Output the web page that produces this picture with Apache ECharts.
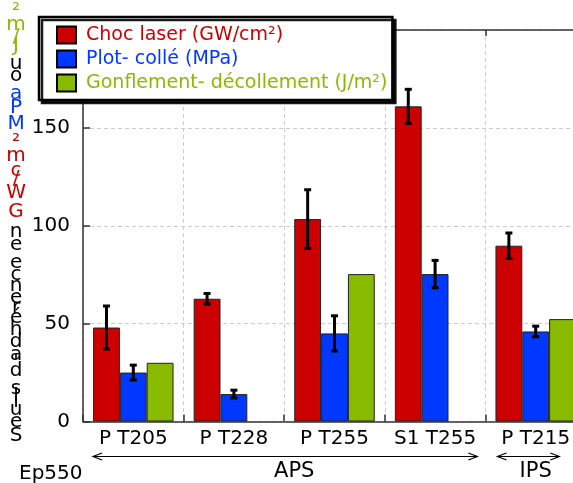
<!DOCTYPE html>
<html>
<head>
<meta charset="utf-8">
<script src="https://cdn.jsdelivr.net/npm/echarts@6/dist/echarts.min.js"></script>
<style>
  html, body { margin: 0; padding: 0; background: #ffffff; }
  #chart { width: 573px; height: 483px; }
</style>
</head>
<body>
<div id="chart"></div>
<script>
// ---------------- data ----------------
const categories = ['P T205', 'P T228', 'P T255', 'S1 T255', 'P T215'];
const seriesNames = ['Choc laser (GW/cm²)', 'Plot- collé (MPa)', 'Gonflement- décollement (J/m²)'];
const chocLaser = [48, 62.7, 103.4, 161, 89.8];
const chocLaserErr = [11, 2.7, 15, 8.7, 6.5];
const plotColle = [25, 14, 45, 75.3, 46];
const plotColleErr = [3.8, 2, 9, 7, 2.7];
const gonflement = [30, null, 75.3, null, 52.3];
const yTicks = [0, 50, 100, 150, 200];
const groupNames = ['APS', 'IPS'];
const groupSpans = [[0, 3], [4, 4]];
const leftNote = 'Ep550';
const yTitleParts = [
  ["Seuils d'adhérence en ", 'black'],
  ['GW/cm²', 'red'],
  [' ', 'black'],
  ['MPa', 'blue'],
  [' ou ', 'black'],
  ['J/m²', 'green']
];

// ---------------- styles ----------------
const COLORS = { red: '#CC0000', blue: '#0038FF', green: '#88BB00', black: '#000000' };
const FONT = 'DejaVu Sans';
// arrow span insets (in category units) and label offsets for the group annotations
const groupLayout = [
  { from: -0.40, to: 0.42, textAt: 1.6 },
  { from: -0.38, to: 0.235, textAt: 4.0 }
];

// Arial-like advance widths (em) used to stack the y title characters
const ADV = { 'S': .667, 'e': .556, 'u': .556, 'i': .222, 'l': .222, 's': .5, ' ': .278, 'd': .556, "'": .191,
  'a': .556, 'h': .556, 'é': .556, 'r': .333, 'n': .556, 'c': .5, 'G': .778, 'W': .944, '/': .278,
  'm': .833, '²': .333, 'M': .833, 'P': .667, 'o': .556, 'J': .5 };

// Build the stacked (bottom-to-top) y-axis title as rich text
const chars = [];
yTitleParts.forEach(function (p) {
  for (const ch of p[0]) chars.push({ ch: ch, color: COLORS[p[1]] });
});
const rich = {};
const lines = [];
chars.slice().reverse().forEach(function (c, i) {
  const key = 'c' + i;
  rich[key] = {
    color: c.color, fontFamily: FONT, fontSize: 20, align: 'center',
    lineHeight: (ADV[c.ch] || 0.5) * 22
  };
  lines.push('{' + key + '|' + c.ch + '}');
});
const yTitle = lines.join('\n');

// ---------------- chart ----------------
const chart = echarts.init(document.getElementById('chart'), null, { renderer: 'canvas' });

const errData = [];
[[chocLaser, chocLaserErr], [plotColle, plotColleErr]].forEach(function (pair, si) {
  pair[0].forEach(function (v, ci) {
    if (v != null && pair[1][ci] != null) errData.push([ci, v, pair[1][ci], si]);
  });
});

function renderErr(params, api) {
  const cat = api.value(0), val = api.value(1), err = api.value(2), si = api.value(3);
  const band = api.size([1, 0])[0];
  const bw = band * 0.8 / 3;
  const c = api.coord([cat, val]);
  const x = c[0] + (si - 1) * bw;
  const top = api.coord([cat, val + err])[1];
  const bot = api.coord([cat, val - err])[1];
  const cap = 3.5;
  const st = { stroke: '#000', lineWidth: 3 };
  return {
    type: 'group',
    children: [
      { type: 'line', shape: { x1: x, y1: top, x2: x, y2: bot }, style: st },
      { type: 'line', shape: { x1: x - cap, y1: top, x2: x + cap, y2: top }, style: st },
      { type: 'line', shape: { x1: x - cap, y1: bot, x2: x + cap, y2: bot }, style: st }
    ]
  };
}

const groupData = groupSpans.map(function (s) { return [s[0], s[1], 0]; });
function renderGroup(params, api) {
  const i = params.dataIndex;
  const lay = groupLayout[i];
  const band = api.size([1, 0])[0];
  const p0 = api.coord([api.value(0), 0]);
  const p1 = api.coord([api.value(1), 0]);
  const axisY = p0[1];
  const x1 = p0[0] + lay.from * band;
  const x2 = p1[0] + lay.to * band;
  const y = axisY + 35;
  const tx = api.coord([0, 0])[0] + lay.textAt * band;
  const st = { stroke: '#000', lineWidth: 1 };
  return {
    type: 'group',
    children: [
      { type: 'line', shape: { x1: x1, y1: y, x2: x2, y2: y }, style: st },
      { type: 'polyline', shape: { points: [[x1 + 9, y - 3.5], [x1, y], [x1 + 9, y + 3.5]] }, style: { stroke: '#000', lineWidth: 1.2, fill: null } },
      { type: 'polyline', shape: { points: [[x2 - 9, y - 3.5], [x2, y], [x2 - 9, y + 3.5]] }, style: { stroke: '#000', lineWidth: 1.2, fill: null } },
      { type: 'text', style: { text: groupNames[i], x: tx, y: axisY + 50, fill: '#000', font: '21px "' + FONT + '"', align: 'center', verticalAlign: 'middle' } }
    ]
  };
}

const barBase = { type: 'bar', barGap: '0%', barCategoryGap: '20%', z: 2,
  itemStyle: { borderColor: '#222', borderWidth: 1 } };

const option = {
  animation: false,
  backgroundColor: '#ffffff',
  textStyle: { fontFamily: FONT },
  title: {
    text: leftNote, left: 14, top: 459,
    textStyle: { fontFamily: FONT, fontSize: 20, fontWeight: 'normal', color: '#000' }
  },
  grid: { left: 83, top: 30, bottom: 61.5, right: -13, containLabel: false, outerBoundsMode: 'none' },
  legend: {
    orient: 'vertical', left: 39, top: 17,
    padding: [8.5, 5, 7.5, 17],
    itemWidth: 19, itemHeight: 17, itemGap: 5,
    backgroundColor: '#ffffff', borderColor: '#000', borderWidth: 2.5, borderRadius: 0,
    shadowColor: 'rgba(0,0,0,0.9)', shadowBlur: 0, shadowOffsetX: 3, shadowOffsetY: 3,
    icon: 'rect',
    itemStyle: { borderColor: '#000', borderWidth: 2 },
    textStyle: { fontFamily: FONT, fontSize: 19, lineHeight: 17, padding: [0, 0, 0, 5] },
    selectedMode: false,
    data: [
      { name: seriesNames[0], textStyle: { color: COLORS.red } },
      { name: seriesNames[1], textStyle: { color: COLORS.blue } },
      { name: seriesNames[2], textStyle: { color: COLORS.green } }
    ]
  },
  xAxis: [
    {
      type: 'category', data: categories, position: 'bottom',
      axisLine: { lineStyle: { color: '#333', width: 1.5 } },
      axisTick: { show: true, inside: true, length: 7, lineStyle: { color: '#333', width: 1.5 } },
      axisLabel: { color: '#000', fontFamily: FONT, fontSize: 20, margin: 7, interval: 0, hideOverlap: false },
      splitLine: { show: true, lineStyle: { color: '#cccccc', type: [4, 3], width: 1 } }
    },
    {
      type: 'category', data: categories, position: 'top',
      axisLine: { lineStyle: { color: '#333', width: 1.5 } },
      axisTick: { show: true, inside: true, length: 6, lineStyle: { color: '#333', width: 1.5 } },
      axisLabel: { show: false },
      splitLine: { show: false }
    }
  ],
  yAxis: {
    type: 'value', min: yTicks[0], max: yTicks[yTicks.length - 1], interval: yTicks[1] - yTicks[0],
    name: yTitle, nameLocation: 'middle', nameGap: 56, nameRotate: 0,
    nameTextStyle: { align: 'center', verticalAlign: 'middle', rich: rich },
    axisLine: { show: true, lineStyle: { color: '#333', width: 1.5 } },
    axisTick: { show: true, inside: true, length: 7, lineStyle: { color: '#333', width: 1.5 } },
    axisLabel: { color: '#000', fontFamily: FONT, fontSize: 20, margin: 13, showMaxLabel: false },
    splitLine: { show: true, lineStyle: { color: '#cccccc', type: [4, 3], width: 1 } }
  },
  series: [
    Object.assign({}, barBase, { name: seriesNames[0], data: chocLaser, itemStyle: Object.assign({}, barBase.itemStyle, { color: COLORS.red }) }),
    Object.assign({}, barBase, { name: seriesNames[1], data: plotColle, itemStyle: Object.assign({}, barBase.itemStyle, { color: COLORS.blue }) }),
    Object.assign({}, barBase, { name: seriesNames[2], data: gonflement, itemStyle: Object.assign({}, barBase.itemStyle, { color: COLORS.green }) }),
    {
      type: 'custom', name: 'errors', renderItem: renderErr, data: errData, z: 5,
      encode: { x: 0, y: 1 }, silent: true, clip: false
    },
    {
      type: 'custom', name: 'groups', renderItem: renderGroup, data: groupData, z: 5,
      encode: { x: [0, 1], y: 2 }, silent: true, clip: false
    }
  ]
};
chart.setOption(option);
</script>
</body>
</html>
